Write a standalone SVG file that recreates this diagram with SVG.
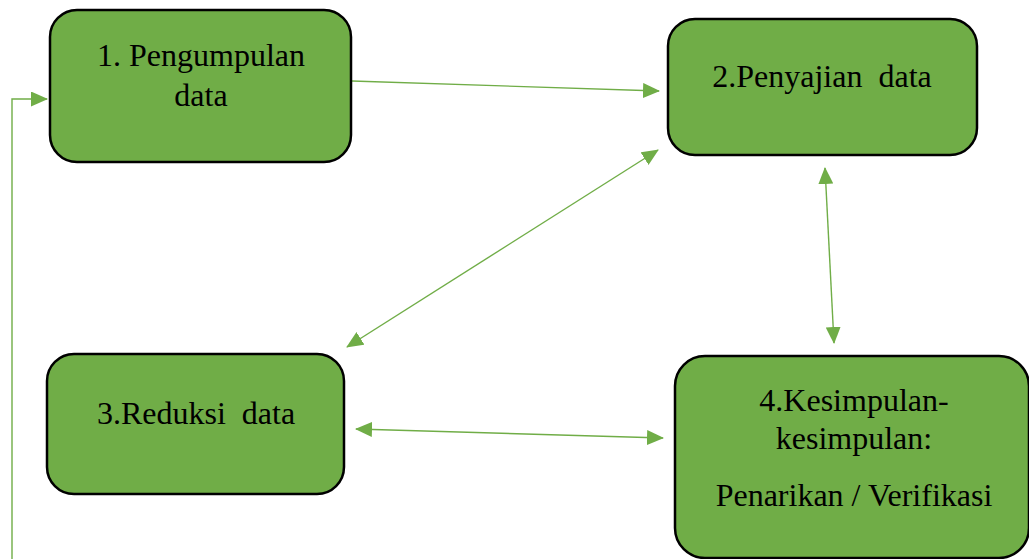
<svg xmlns="http://www.w3.org/2000/svg" width="1029" height="559" viewBox="0 0 1029 559">
<style>
.node{fill:#70AD47;stroke:#000;stroke-width:2.5}
.lbl{font-family:"Liberation Serif","Times New Roman",serif;font-size:32px;fill:#000;text-anchor:middle}
.con{stroke:#70AD47;stroke-width:1.4;fill:none}
</style>
<defs>
<marker id="ah" markerUnits="userSpaceOnUse" markerWidth="17" markerHeight="15" refX="16" refY="7.5" orient="auto-start-reverse">
<path d="M0,0 L17,7.5 L0,15 Z" fill="#70AD47"/>
</marker>
</defs>
<g id="connectors">
<path class="con" d="M12,559 L12,99 L47,99" stroke="#8dc26b" marker-end="url(#ah)"/>
<line class="con" x1="352" y1="81" x2="659" y2="91" marker-end="url(#ah)"/>
<line class="con" x1="347" y1="347" x2="658" y2="150" marker-start="url(#ah)" marker-end="url(#ah)"/>
<line class="con" x1="825" y1="168" x2="834" y2="343" marker-start="url(#ah)" marker-end="url(#ah)"/>
<line class="con" x1="356" y1="429" x2="663" y2="438" marker-start="url(#ah)" marker-end="url(#ah)"/>
</g>
<g id="node1">
<rect class="node" x="50" y="10" width="301" height="152" rx="27"/>
<text class="lbl" x="201" y="66">1. Pengumpulan</text>
<text class="lbl" x="201" y="106">data</text>
</g>
<g id="node2">
<rect class="node" x="668" y="19" width="309" height="136" rx="27"/>
<text class="lbl" x="822" y="87" xml:space="preserve">2.Penyajian  data</text>
</g>
<g id="node3">
<rect class="node" x="47" y="354" width="297" height="140" rx="27"/>
<text class="lbl" x="196" y="424" xml:space="preserve">3.Reduksi  data</text>
</g>
<g id="node4">
<rect class="node" x="675" y="356" width="354" height="202" rx="30"/>
<text class="lbl" x="854" y="411">4.Kesimpulan-</text>
<text class="lbl" x="854" y="449">kesimpulan:</text>
<text class="lbl" x="854" y="506">Penarikan / Verifikasi</text>
</g>
</svg>
